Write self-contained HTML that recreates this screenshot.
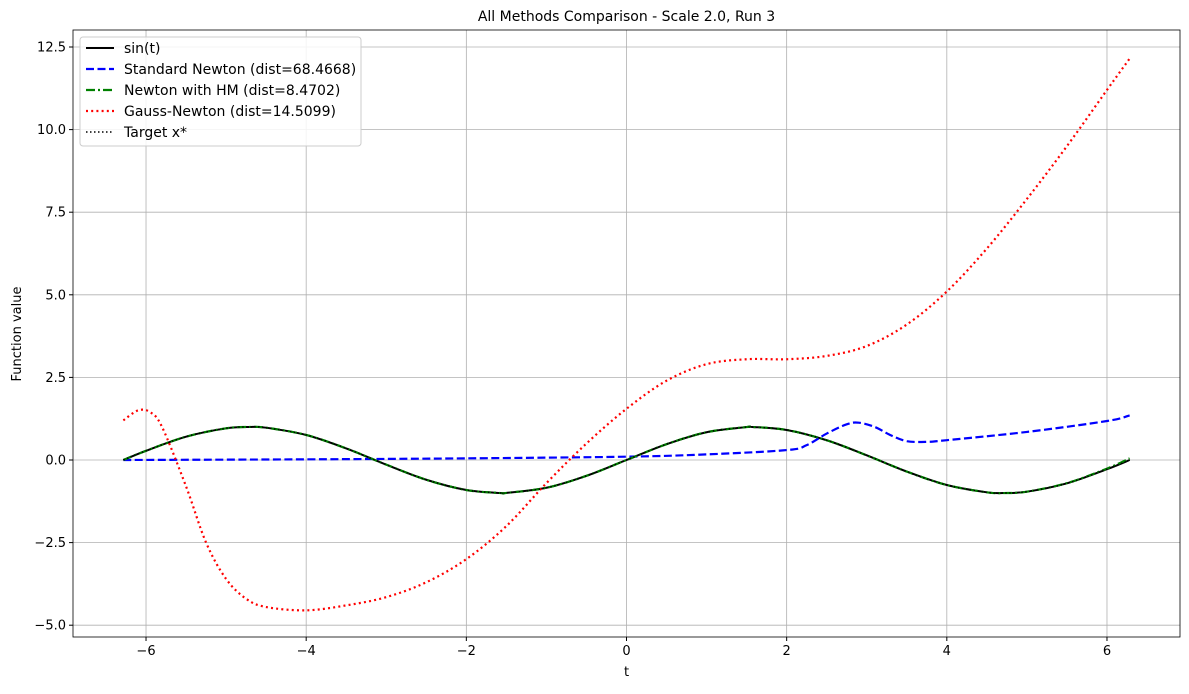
<!DOCTYPE html>
<html><head><meta charset="utf-8"><style>
body{margin:0;background:#fff;font-family:"DejaVu Sans","Liberation Sans",sans-serif}
svg text{font-family:"DejaVu Sans","Liberation Sans",sans-serif}
</style></head><body>
<svg id="c" width="1189" height="690"></svg>
<script>
const sinT=[-6.283,-6,-5.5,-5,-4.712,-4.5,-4,-3.5,-3,-2.5,-2,-1.571,-1.5,-1,-0.5,0,0.5,1,1.5,1.571,2,2.5,3,3.5,4,4.5,4.712,5,5.5,6,6.283];
const sinV=[0,0.279,0.706,0.959,1,0.978,0.757,0.351,-0.141,-0.598,-0.909,-1,-0.997,-0.841,-0.479,0,0.479,0.841,0.997,1,0.909,0.598,0.141,-0.351,-0.757,-0.978,-1,-0.959,-0.706,-0.279,0];
const hmV=[0,0.279,0.706,0.959,1,0.978,0.757,0.351,-0.141,-0.598,-0.909,-1,-0.997,-0.841,-0.479,0,0.479,0.841,0.997,1,0.909,0.598,0.141,-0.351,-0.757,-0.978,-1,-0.959,-0.70,-0.26,0.05];
const stdT=[-6.283,-4,-2,0,1,2,2.25,2.5,2.75,2.9,3.1,3.3,3.5,3.75,4,5,6,6.283];
const stdV=[0,0.02,0.05,0.1,0.17,0.3,0.45,0.8,1.08,1.13,1.0,0.75,0.57,0.55,0.6,0.85,1.18,1.35];
const gnT=[-6.283,-6.1,-5.95,-5.8,-5.5,-5.25,-5,-4.75,-4.5,-4,-3.5,-3,-2.5,-2,-1.5,-1,-0.5,0,0.5,1,1.5,2,2.5,3,3.5,4,4.5,5,5.5,6,6.283];
const gnV=[1.2,1.5,1.45,1.0,-0.8,-2.5,-3.6,-4.2,-4.45,-4.55,-4.4,-4.15,-3.7,-3.0,-2.0,-0.7,0.5,1.55,2.4,2.9,3.05,3.05,3.15,3.45,4.1,5.1,6.4,7.9,9.5,11.2,12.15];
const xTicks=[-6,-4,-2,0,2,4,6];
const yTicks=[-5,-2.5,0,2.5,5,7.5,10,12.5];
const L=73,R=1180,T=30,B=637;
const X=v=>626.5+v*80.08, Y=v=>460-v*33.04;
const s=document.getElementById('c'),NS='http://www.w3.org/2000/svg';
function mk(t,a,p){const e=document.createElementNS(NS,t);for(const k in a)e.setAttribute(k,a[k]);(p||s).appendChild(e);return e;}
xTicks.forEach(v=>{const x=X(v);
const g=mk('line',{x1:x,x2:x,y1:T,y2:B,stroke:'#b0b0b0','stroke-width':0.8});


mk('line',{x1:x,x2:x,y1:B,y2:B+4,stroke:'#000'});
const t=mk('text',{x:x,y:B+18,'text-anchor':'middle','font-size':13});t.textContent=(v<0?'\u2212'+(-v):v);

});
yTicks.forEach(v=>{const y=Y(v);
const g=mk('line',{x1:L,x2:R,y1:y,y2:y,stroke:'#b0b0b0','stroke-width':0.8});


mk('line',{x1:L-4,x2:L,y1:y,y2:y,stroke:'#000'});
const t=mk('text',{x:L-7,y:y+4.5,'text-anchor':'end','font-size':13});t.textContent=(v<0?'\u2212'+(-v).toFixed(1):v.toFixed(1));

});
function path(ts,vs){const p=ts.map((t,i)=>[X(t),Y(vs[i])]);let d='M'+p[0][0]+','+p[0][1];
for(let i=0;i<p.length-1;i++){const p0=p[i-1]||p[i],p1=p[i],p2=p[i+1],p3=p[i+2]||p2;
d+=' C'+(p1[0]+(p2[0]-p0[0])/6)+','+(p1[1]+(p2[1]-p0[1])/6)+' '+(p2[0]-(p3[0]-p1[0])/6)+','+(p2[1]-(p3[1]-p1[1])/6)+' '+p2[0]+','+p2[1];}return d;}
const series=[
['sin-curve',sinT,sinV,'#000','',2],
['standard-newton-curve',stdT,stdV,'#0000ff','8,3.5',2.2],
['newton-hm-curve',sinT,hmV,'#008000','9,3,2,3',2.2],
['gauss-newton-curve',gnT,gnV,'#ff0000','2,3.2',2.2],
['target-curve',sinT,sinV,'#000','1.5,2.5',1.5]];
series.forEach(([n,ts,vs,c,da,w])=>{const e=mk('path',{d:path(ts,vs),fill:'none',stroke:c,'stroke-width':w,'stroke-dasharray':da});

});
const fr=mk('rect',{x:L,y:T,width:R-L,height:B-T,fill:'none',stroke:'#000','stroke-width':0.8});


const tt=mk('text',{x:626.5,y:21,'text-anchor':'middle','font-size':14});tt.textContent='All Methods Comparison - Scale 2.0, Run 3';


const xl=mk('text',{x:626.5,y:676,'text-anchor':'middle','font-size':13});xl.textContent='t';


const yl=mk('text',{x:21,y:334,'text-anchor':'middle','font-size':13,transform:'rotate(-90 21 334)'});yl.textContent='Function value';


const lg=mk('g',{});


mk('rect',{x:80,y:37,width:281,height:109,rx:3,fill:'#fff','fill-opacity':0.85,stroke:'#ccc'},lg);
const labels=['sin(t)','Standard Newton (dist=68.4668)','Newton with HM (dist=8.4702)','Gauss-Newton (dist=14.5099)','Target x*'];
labels.forEach((lab,i)=>{const y=48+i*21,sr=series[i];
mk('line',{x1:86,x2:114,y1:y,y2:y,stroke:sr[3],'stroke-width':sr[5],'stroke-dasharray':sr[4]},lg);
const t=mk('text',{x:124,y:y+5,'font-size':14},lg);t.textContent=lab;

});
</script>
</body></html>
